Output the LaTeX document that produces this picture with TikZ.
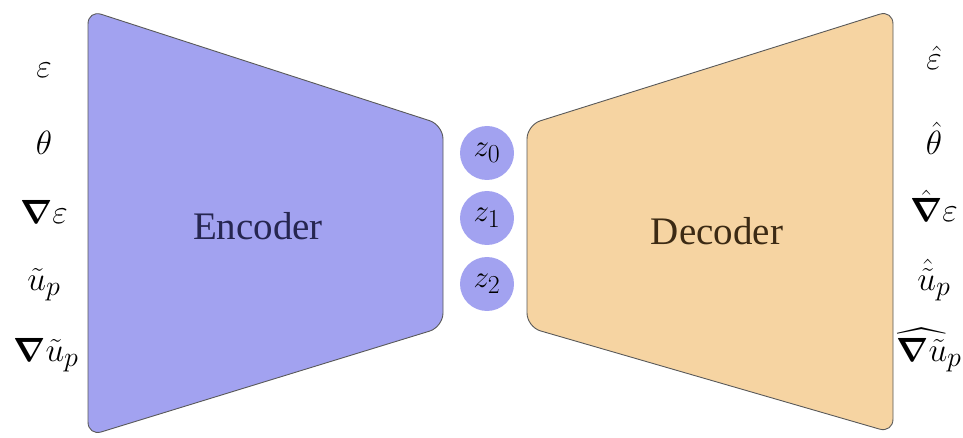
\documentclass[tikz,border=0pt]{standalone}
\usepackage{fontspec}
\setmainfont{Liberation Serif}
\usepackage{amsmath, amssymb}
\usepackage{tikz}
\usetikzlibrary{positioning,calc}

\definecolor{encFill}{RGB}{162,162,240}
\definecolor{decFill}{RGB}{246,212,162}
\definecolor{encText}{RGB}{38,38,80}
\definecolor{decText}{RGB}{60,42,20}

\newcommand{\gradOp}{\boldsymbol{\nabla}}
% math at label size (cm math only comes in fixed sizes)
\newcommand{\symLbl}[1]{\scalebox{1.35}{$#1$}}
\newcommand{\symZ}[1]{\scalebox{1.25}{$#1$}}

\begin{document}
\begin{tikzpicture}[
  x=1pt, y=-1pt,
  block/.style={draw=gray!70!black, line width=0.9pt, rounded corners=14pt},
  latent/.style={circle, fill=encFill, minimum size=54pt, inner sep=0pt,
                 font=\Huge},
  inLabel/.style={font=\Huge},
  title/.style={font=\fontsize{39}{44}\selectfont},
]
\useasboundingbox (0,0) rectangle (963,438);

% encoder / decoder bodies
\draw[block, fill=encFill] (88,10) -- (443,125) -- (443,327) -- (88,436) -- cycle;
\draw[block, fill=decFill] (527,125) -- (893,10) -- (893,433) -- (527,327) -- cycle;

\node[title, text=encText] (enc) at (258,226) {Encoder};
\node[title, text=decText] (dec) at (717,231) {Decoder};

% latent code
\node[latent] (z0) at (487,153) {\symZ{z_0}};
\node[latent] (z1) at (487,218) {\symZ{z_1}};
\node[latent] (z2) at (487,284) {\symZ{z_2}};

% inputs
\node[inLabel] (x1) at (44,70)  {\symLbl{\varepsilon}};
\node[inLabel] (x2) at (44,143) {\symLbl{\theta}};
\node[inLabel] (x3) at (44,212) {\symLbl{\gradOp\varepsilon}};
\node[inLabel] (x4) at (44,285) {\symLbl{\tilde{u}_p}};
\node[inLabel] (x5) at (46,355) {\symLbl{\gradOp\tilde{u}_p}};

% reconstructions
\node[inLabel] (y1) at (934,58)  {\symLbl{\hat{\varepsilon}}};
\node[inLabel] (y2) at (934,138) {\symLbl{\hat{\theta}}};
\node[inLabel] (y3) at (934,206) {\symLbl{\hat{\gradOp}\varepsilon}};
\node[inLabel] (y4) at (934,280) {\symLbl{\hat{\tilde{u}}_p}};
\node[inLabel] (y5) at (929,350) {\symLbl{\widehat{\gradOp\tilde{u}}_p}};
\end{tikzpicture}
\end{document}
